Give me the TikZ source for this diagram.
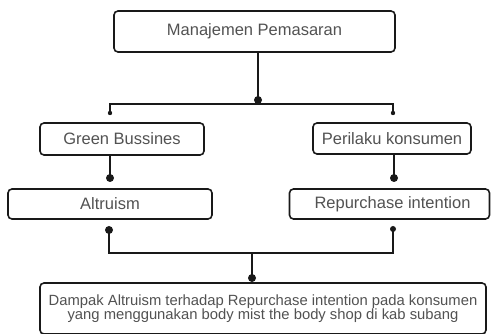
\documentclass[tikz,border=0pt]{standalone}
\usepackage{fontspec}
\setmainfont{Liberation Sans}
\usepackage{tikz}
\tikzset{>=latex}
\usetikzlibrary{calc}
\tikzset{
  box/.style={draw=black!90, line width=1.6pt, rounded corners=4pt, fill=white,
    text=black!68, font=\fontsize{16.5}{19}\selectfont, inner sep=0pt},
  wire/.style={draw=black!90, line width=1.6pt},
}

\begin{document}
\begin{tikzpicture}[x=1pt, y=-1pt]
      \useasboundingbox (0, 0) rectangle (491, 334);
      \node[box, minimum width=281pt, minimum height=41pt] (manajemen) at (254.5, 31.5) {Manajemen Pemasaran};
      \node[box, minimum width=164pt, minimum height=32pt] (green) at (122, 139) {Green Bussines\hspace{24pt}};
      \node[box, minimum width=158pt, minimum height=31pt] (perilaku) at (392, 138.5) {Perilaku konsumen};
      \node[box, minimum width=204pt, minimum height=30pt] (altruism) at (110, 204) {Altruism};
      \node[box, minimum width=200pt, minimum height=30pt] (repurchase) at (389.5, 204) {\hspace{6pt}Repurchase intention};
      \node[box, minimum width=446pt, minimum height=51pt, align=center,
        font=\fontsize{14.8}{14}\selectfont] (dampak) at (263, 308.5)
        {Dampak Altruism terhadap Repurchase intention pada konsumen\\yang menggunakan body mist the body shop di kab subang};
      % split from the top box
      \coordinate (split) at (258, 104);
      \coordinate (gtop) at (110, 113);
      \coordinate (ptop) at (393, 113);
      \draw[wire] (manajemen.south -| split) -- (split);
      \draw[wire] (gtop) |- (split) -| (ptop);
      \fill[black!90] (split) ++(0, -4) circle (4pt);
      \fill[black!90] (gtop) circle (2.2pt);
      \fill[black!90] (ptop) circle (2.2pt);
      % down to altruism and repurchase
      \coordinate (adot) at (110, 178);
      \coordinate (rdot) at (394, 178);
      \draw[wire] (green.south -| adot) -- (adot);
      \draw[wire] (perilaku.south -| rdot) -- (rdot);
      \fill[black!90] (adot) circle (4pt);
      \fill[black!90] (rdot) circle (4pt);
      % join into the bottom box
      \coordinate (abot) at (109, 230);
      \coordinate (rbot) at (393, 229);
      \coordinate (join) at (252, 253);
      \coordinate (ddot) at (252, 278);
      \draw[wire] (abot) |- (join) -| (rbot);
      \draw[wire] (join) -- (ddot);
      \fill[black!90] (abot) circle (4pt);
      \fill[black!90] (rbot) circle (3pt);
      \fill[black!90] (ddot) circle (4pt);
    \end{tikzpicture}
\end{document}
